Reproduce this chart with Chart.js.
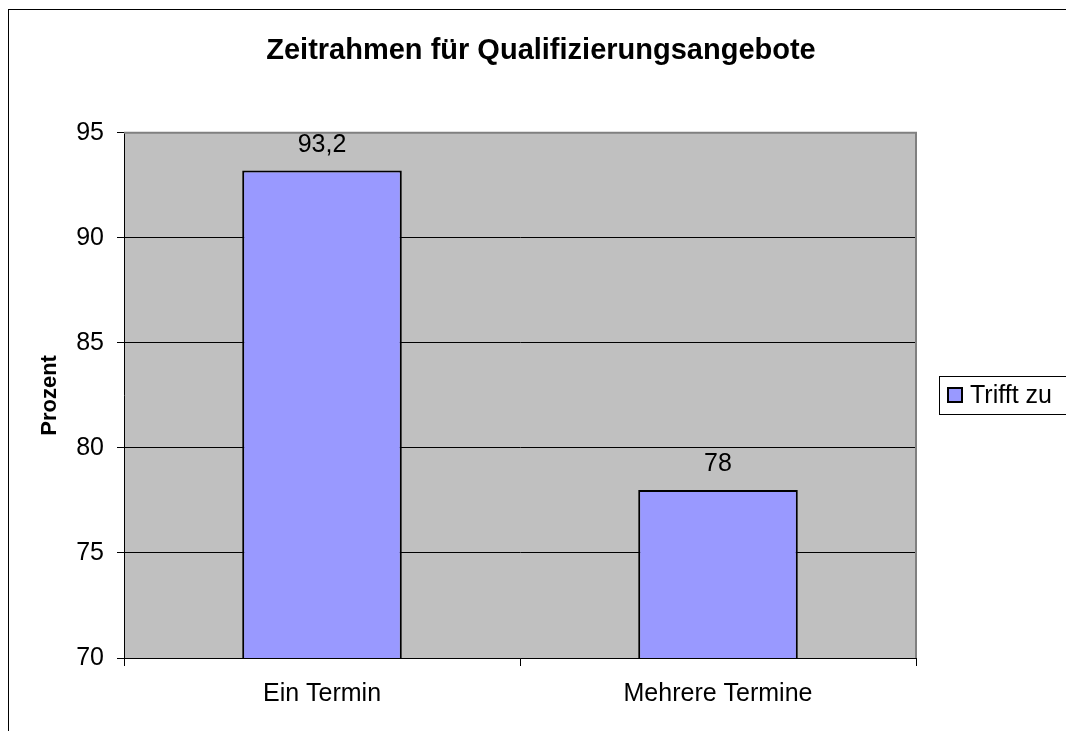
<!DOCTYPE html>
<html>
<head>
<meta charset="utf-8">
<script src="https://cdn.jsdelivr.net/npm/chart.js@4"></script>
<style>
  html, body { margin: 0; padding: 0; background: #fff; overflow: hidden; }
  canvas { display: block; }
</style>
</head>
<body>
<canvas id="chart" width="1066" height="731"></canvas>
<script>
const categories = ['Ein Termin', 'Mehrere Termine']
const trifftZu = [93.2, 78]
const seriesLabel = 'Trifft zu'
const yTicks = [70, 75, 80, 85, 90, 95]

const FONT = "'Liberation Sans', Arial, sans-serif"
const BAR_FILL = '#9999FF'

// German decimal comma
const fmt = v => String(v).replace('.', ',')

const frame = {
  id: 'frame',
  beforeDraw(chart) {
    const { ctx, chartArea: a } = chart
    ctx.save()
    // outer chart border
    ctx.strokeStyle = '#000'
    ctx.lineWidth = 1
    ctx.strokeRect(8.5, 9.5, 1100, 800)
    // plot area
    ctx.fillStyle = '#C0C0C0'
    ctx.fillRect(a.left, a.top, a.right - a.left, a.bottom - a.top)
    ctx.restore()
  },
  beforeDatasetsDraw(chart) {
    const { ctx, chartArea: a } = chart
    ctx.save()
    ctx.strokeStyle = '#808080'
    ctx.lineWidth = 2
    ctx.beginPath()
    ctx.moveTo(a.left, a.top)
    ctx.lineTo(a.right, a.top)
    ctx.lineTo(a.right, a.bottom)
    ctx.stroke()
    ctx.restore()
  }
}

const valueLabels = {
  id: 'valueLabels',
  afterDatasetsDraw(chart) {
    const { ctx } = chart
    const meta = chart.getDatasetMeta(0)
    ctx.save()
    ctx.font = '25px ' + FONT
    ctx.fillStyle = '#000'
    ctx.textAlign = 'center'
    ctx.textBaseline = 'alphabetic'
    meta.data.forEach((bar, i) => {
      ctx.fillText(fmt(trifftZu[i]), bar.x, bar.y - 19)
    })
    ctx.restore()
  }
}

const boxLegend = {
  id: 'boxLegend',
  afterDraw(chart) {
    const { ctx } = chart
    ctx.save()
    ctx.fillStyle = '#fff'
    ctx.fillRect(939, 376, 140, 38)
    ctx.strokeStyle = '#000'
    ctx.lineWidth = 1
    ctx.strokeRect(939.5, 376.5, 140, 38)
    ctx.fillStyle = BAR_FILL
    ctx.fillRect(948, 388, 14, 14)
    ctx.lineWidth = 2
    ctx.strokeRect(948, 388, 14, 14)
    ctx.fillStyle = '#000'
    ctx.font = '25px ' + FONT
    ctx.textBaseline = 'alphabetic'
    ctx.fillText(seriesLabel, 970, 403)
    ctx.restore()
  }
}

new Chart(document.getElementById('chart'), {
  type: 'bar',
  data: {
    labels: categories,
    datasets: [
      {
        label: seriesLabel,
        data: trifftZu,
        backgroundColor: BAR_FILL,
        borderColor: '#000',
        borderWidth: 2,
        borderSkipped: false,
        barPercentage: 0.403,
        categoryPercentage: 1
      }
    ]
  },
  options: {
    responsive: false,
    devicePixelRatio: 1,
    animation: false,
    layout: { padding: { left: 16, right: 0, top: 0, bottom: 0 } },
    plugins: {
      legend: { display: false },
      tooltip: { enabled: false },
      title: {
        display: true,
        text: 'Zeitrahmen für Qualifizierungsangebote',
        color: '#000',
        font: { family: FONT, size: 29, weight: 'bold' },
        padding: { top: 34, bottom: 64 }
      }
    },
    scales: {
      x: {
        grid: { drawOnChartArea: false, tickLength: 8, color: '#000', offset: true },
        border: { color: '#000', width: 1 },
        ticks: { color: '#000', padding: 13, font: { family: FONT, size: 25 } },
        afterFit: s => { s.height = 73 }
      },
      y: {
        min: 70,
        max: 95,
        afterBuildTicks: s => { s.ticks = yTicks.map(v => ({ value: v })) },
        grid: {
          color: c => (c.tick && c.tick.value === 95 ? 'rgba(0,0,0,0)' : '#000'),
          tickColor: '#000',
          tickLength: 7,
          lineWidth: 1
        },
        border: { color: '#000', width: 1 },
        ticks: { color: '#000', padding: 13, font: { family: FONT, size: 25 } },
        title: {
          display: true,
          text: 'Prozent',
          color: '#000',
          font: { family: FONT, size: 22, weight: 'bold' },
          padding: { top: 21, bottom: 0 }
        },
        afterFit: s => { s.width = 108 }
      },
      yRight: {
        position: 'right',
        display: true,
        grid: { display: false },
        ticks: { display: false },
        border: { display: false },
        afterFit: s => { s.width = 150 }
      }
    }
  },
  plugins: [frame, valueLabels, boxLegend]
})
</script>
</body>
</html>
